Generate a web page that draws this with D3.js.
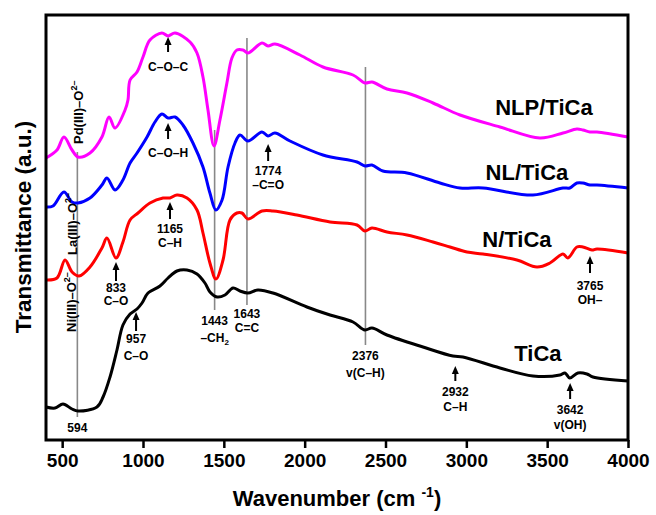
<!DOCTYPE html>
<html><head><meta charset="utf-8">
<script src="https://cdn.jsdelivr.net/npm/d3@7/dist/d3.min.js"></script>
<style>body{margin:0;background:#fff}svg{display:block;font-family:"Liberation Sans",Arial,sans-serif}</style>
</head><body><div id="chart"></div>
<script>
// ---------- data ----------
const xTicks = [500,1000,1500,2000,2500,3000,3500,4000];
const seriesNames = ["NLP/TiCa","NL/TiCa","N/TiCa","TiCa"];
const nlpWave = [400,468,511,561,598,672,746,790,827,889,907,920,963,1000,1043,1117,1155,1198,1291,1334,1371,1402,1439,1476,1519,1550,1581,1618,1649,1736,1773,1816,1971,2113,2299,2373,2416,2509,2633,2794,2961,3208,3455,3598,3684,3721,3765,3808,4000];
const nlpT    = [56.4,58,60.6,58,56.6,57.4,60.6,64.6,62.4,66,68,72,73.6,76.6,80,81.4,80.8,81.4,79.6,77.4,72.6,66,58.8,64,71.4,76.4,78,78,77.4,79.4,78.8,79.2,77,74.6,73,71.4,71.6,70.2,69.4,67.4,65,62.6,60.4,61.4,62.2,62,61.6,61.6,60.6];
const nlWave = [400,443,511,561,598,672,746,777,827,876,920,963,1025,1074,1117,1155,1198,1247,1309,1371,1414,1451,1489,1526,1569,1600,1649,1736,1773,1816,1909,2113,2324,2373,2416,2484,2633,2837,2961,3103,3412,3598,3640,3684,3721,3765,3808,4000];
const nlT    = [46.6,46.8,49.6,47.6,47.4,48.4,51,52.4,50,52,55.4,57.4,60.6,63.6,65.2,64.4,64.6,63,59.4,54.6,49.4,46,48,54.6,59.4,61,59.8,61.6,60.8,61.4,59.8,57,55.6,54.8,55,53.8,53.4,51.4,50.4,50.4,49,50.4,50.4,51.4,51.4,51,51,50.4];
const nWave = [400,468,518,561,604,672,746,777,833,876,920,969,1043,1124,1167,1210,1272,1334,1371,1414,1451,1495,1538,1581,1612,1649,1736,1804,1952,2157,2324,2373,2416,2509,2633,2794,2899,3004,3103,3313,3437,3517,3598,3628,3684,3721,3777,3808,4000];
const nT    = [32,32.4,36,33.6,32.8,34.6,38.4,40.4,36.4,39.6,44,45.4,47.4,48.4,48.4,49,48.4,46,41.4,35.4,32.2,36,44,45.4,45.4,44.2,45.8,45.8,45,43.6,43,41.8,42.4,41.6,41,39.6,38.6,37.6,37.2,36,34.6,35.4,37.2,36.4,38.6,38.6,38,38.2,37.4];
const tWave = [400,456,505,561,598,715,753,796,839,876,920,963,994,1031,1105,1155,1210,1272,1334,1383,1414,1458,1507,1557,1600,1649,1711,1804,2014,2157,2299,2373,2416,2509,2732,2917,2979,3208,3412,3579,3610,3640,3690,3746,3783,4000];
const tT    = [6.6,6.4,7.2,6.2,5.8,6.6,8.6,12.6,18,23,25.2,26.2,27.4,29.4,30.8,32.4,33.8,34,33.2,31.4,29.6,28.6,29,30.4,29.8,29.4,30,29.4,26.6,25,23.6,22,22.4,21,18.6,16.8,16.6,14.4,12.8,13,13.4,12.4,13.4,13.2,12.6,11.8];
const refBands = [594,1443,1643,2376];

// ---------- layout ----------
const W=656,H=515, m={l:46,t:15,r:28,b:75};
const colors = ["#ff00ff","#0000ff","#ff0000","#000000"];
const svg=d3.select("#chart").append("svg").attr("width",W).attr("height",H);
const x=d3.scaleLinear().domain([400,4000]).range([m.l,W-m.r]);
const y=d3.scaleLinear().domain([0,85]).range([H-m.b,m.t]);

// reference band lines extents [yTop, yBottom]
const bandExtents=[[57.6,4.6],[62,26],[80.4,27],[74.6,19]];
svg.append("g").selectAll("line").data(refBands).join("line")
  .attr("x1",d=>x(d)).attr("x2",d=>x(d))
  .attr("y1",(d,i)=>y(bandExtents[i][0])).attr("y2",(d,i)=>y(bandExtents[i][1]))
  .attr("stroke","#888").attr("stroke-width",1.6);

// series
const series=[[nlpWave,nlpT],[nlWave,nlT],[nWave,nT],[tWave,tT]];
const line=d3.line().x(d=>x(d[0])).y(d=>y(d[1])).curve(d3.curveCatmullRom.alpha(0.5));
series.forEach((s,i)=>{
  const pts=s[0].map((w,j)=>[w,s[1][j]]);
  svg.append("path").attr("d",line(pts)).attr("fill","none")
    .attr("stroke",colors[i]).attr("stroke-width",3).attr("stroke-linejoin","round");
});

// axis
const ax=svg.append("g").attr("transform",`translate(0,${H-m.b})`)
  .call(d3.axisBottom(x).tickValues(xTicks).tickSize(8).tickPadding(6).tickFormat(d3.format("d")));
ax.select(".domain").remove();
ax.selectAll(".tick line").attr("stroke","#000").attr("stroke-width",2.5);
ax.selectAll(".tick text").attr("font-size",19).attr("font-weight","bold").attr("fill","#000")
  .attr("font-family","Liberation Sans, Arial, sans-serif");

// frame
svg.append("rect").attr("x",m.l).attr("y",m.t).attr("width",W-m.l-m.r).attr("height",H-m.t-m.b)
  .attr("fill","none").attr("stroke","#000").attr("stroke-width",3);

// titles
const xt=svg.append("text").attr("x",(m.l+W-m.r)/2).attr("y",506).attr("text-anchor","middle")
  .attr("font-size",22).attr("font-weight","bold");
xt.append("tspan").text("Wavenumber (cm ");
xt.append("tspan").text("-1").attr("font-size",14).attr("dy",-9);
xt.append("tspan").text(")").attr("dy",9);
svg.append("text").attr("transform",`translate(31,227) rotate(-90)`)
  .attr("text-anchor","middle").attr("font-size",22.5).attr("font-weight","bold").text("Transmittance (a.u.)");

// series labels [wavenumber, T]
const labelPos=[[3480,65],[3375,52],[3313,38.6],[3443,15.8]];
svg.append("g").selectAll("text").data(seriesNames).join("text")
  .attr("x",(d,i)=>x(labelPos[i][0])).attr("y",(d,i)=>y(labelPos[i][1]))
  .attr("text-anchor","middle").attr("font-size",22).attr("font-weight","bold").text(d=>d);

// rotated metal–oxygen labels
const metalLabels=[["Pd(III)–O",629,59.2],["La(III)–O",592,37],["Ni(III)–O",586,21.6]];
metalLabels.forEach(d=>{
  const t=svg.append("text").attr("transform",`translate(${x(d[1])},${y(d[2])}) rotate(-90)`)
    .attr("font-size",13).attr("font-weight","bold");
  t.append("tspan").text(d[0]);
  t.append("tspan").text("2–").attr("font-size",9).attr("dy",-6);
});

// annotations: [wavenumber, arrowTip, arrowBottom, [lines], [baselines]]
const ann=[
  [1155,80.6,77.6,["C–O–C"],[73.8]],
  [1155,63.4,60.2,["C–O–H"],[56.6]],
  [1167,47.6,44.2,["1165","C–H"],[41.4,38.6]],
  [833,35.6,31.8,["833","C–O"],[29.6,27]],
  [957,25.6,21.8,["957","C–O"],[19.4,16]],
  [1443,null,null,["1443","–CH"],[23,19.6]],
  [1643,null,null,["1643","C=C"],[24.4,21.6]],
  [1774,59.2,55.8,["1774","–C=O"],[53,50.2]],
  [2376,null,null,["2376","v(C–H)"],[16,12.6]],
  [2932,14.8,11.8,["2932","C–H"],[8.8,5.8]],
  [3642,11.4,8.2,["3642","v(OH)"],[5.2,2.2]],
  [3765,36.8,33.4,["3765","OH–"],[30,27.2]],
  [594,null,null,["594"],[1.6]]
];
ann.forEach(a=>{
  const cx=x(a[0]);
  if(a[1]!==null){
    const ty=y(a[1]), by=y(a[2]);
    svg.append("line").attr("x1",cx).attr("x2",cx).attr("y1",ty+6).attr("y2",by)
      .attr("stroke","#000").attr("stroke-width",2);
    svg.append("path").attr("d",`M${cx},${ty} L${cx-3.5},${ty+8} L${cx+3.5},${ty+8} Z`).attr("fill","#000");
  }
  a[3].forEach((s,k)=>{
    const t=svg.append("text").attr("x",cx).attr("y",y(a[4][k])).attr("text-anchor","middle")
      .attr("font-size",12).attr("font-weight","bold");
    t.append("tspan").text(s);
    if(s==="–CH") t.append("tspan").text("2").attr("font-size",8).attr("dy",3);
  });
});
</script></body></html>
